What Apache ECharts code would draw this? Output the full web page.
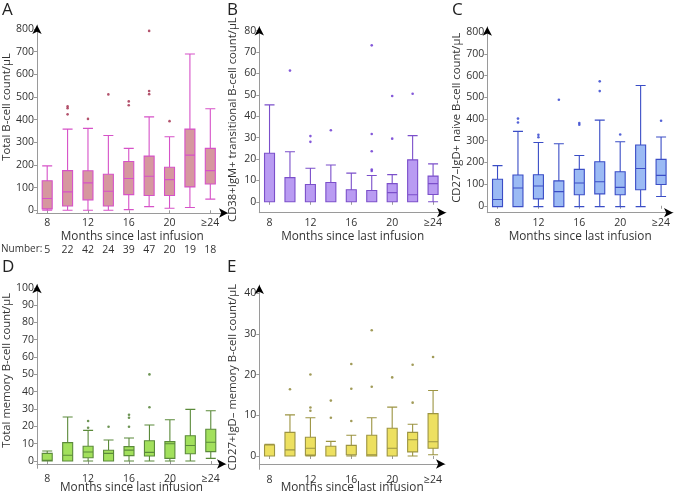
<!DOCTYPE html>
<html>
<head>
<meta charset="utf-8">
<script src="https://cdn.jsdelivr.net/npm/echarts@6/dist/echarts.min.js"></script>
<style>
html,body{margin:0;padding:0;background:#fff;}
#chart{width:676px;height:495px;}
</style>
</head>
<body>
<div id="chart"></div>
<script>
const categories = ['8','10','12','14','16','18','20','22','≥24'];
const numbers = ['5','22','42','24','39','47','20','19','18'];

const ticksA = [0,100,200,300,400,500,600,700,800];
const ticksB = [0,10,20,30,40,50,60,70,80];
const ticksC = [0,100,200,300,400,500,600,700,800];
const ticksD = [0,10,20,30,40,50,60,70,80,90,100];
const ticksE = [0,10,20,30,40];

// [min, Q1, median, Q3, max]
const boxA = [[0,6,52,130,196],[0,19,81,175,358],[0,46,121,174,361],[0,19,84,159,330],[3,69,140,215,273],[16,65,150,239,412],[9,65,135,190,324],[12,103,243,358,689],[49,116,175,273,448]];
const outA = [[1,458],[1,450],[1,423],[2,403],[3,511],[4,480],[4,463],[5,791],[5,526],[5,512],[6,393]];

const boxB = [[0,0,0,22.7,45.3],[0,0,0,11.3,23.4],[0,0,0,8.1,15.7],[0,0,0,9,17.2],[0,0,0,5.6,13.4],[0,0,0,5.3,12.3],[0,0,4.3,8.5,12.7],[0,0,3.3,19.6,30.9],[0,3.4,8.5,12,17.7]];
const outB = [[1,61.3],[2,30.7],[2,28],[3,33.4],[5,73.1],[5,31.7],[5,23.6],[5,15.1],[5,14.4],[6,49.4],[6,29.5],[7,50.5]];

const boxC = [[-4,-4,29,122,185],[-4,-4,82,142,343],[-4,32,91,143,292],[-4,-4,65,115,286],[-4,51,105,168,232],[-4,55,111,203,395],[-4,51,85,157,295],[-4,74,172,280,555],[43,98,140,214,317]];
const outC = [[1,402],[1,384],[2,327],[2,316],[3,489],[4,382],[4,374],[5,574],[5,529],[6,329],[8,392]];

const boxD = [[0,0,0.4,4.4,5.8],[0,0,3.3,10.6,25.4],[0,1.9,5.2,8.5,17.7],[0,0,4.4,6.2,12.1],[0,3.1,6.3,8.3,13.3],[0,2.9,5,11.7,20.8],[0,1.5,10,11.2,23.8],[0,4.2,9,14.6,29.8],[1.5,5.4,10.8,18.3,29]];
const outD = [[2,23.1],[2,19.2],[3,19.8],[4,26.7],[4,25],[4,19.8],[5,50],[5,31]];

const boxE = [[0,0,0,2.7,2.9],[0,0,1.5,5.8,10.1],[0,0.2,1.9,4.6,9.4],[0,0,0,2.4,3.6],[0,0.3,0.3,2.6,5.1],[0,0,0.3,5.1,9.4],[0,0,1.9,6.8,12],[0,1,4,5.8,7.8],[0.3,1.9,3.5,10.4,16.1]];
const outE = [[1,16.4],[2,20],[2,11.9],[2,11.1],[3,13.6],[3,9.4],[4,22.6],[4,16.5],[4,8.6],[5,30.9],[5,17],[6,19.3],[7,22.4],[7,13.1],[8,24.3]];

const FONT = '"Open Sans", "Noto Sans", sans-serif';
const AXIS_GRAY = '#9a9a9a';
const TEXT = '#333';

const panels = [
  {letter:'A', yName:'Total B-cell count/μL', box:boxA, out:outA, ticks:ticksA,
   left:36.5, top:25, bottom:213, arrowRight:228, ymin:-12, ymax:817, nameGap:25, nameShift:24,
   fill:'#d6979f', stroke:'#d652c8', outColor:'#a02848', number:true},
  {letter:'B', yName:'CD38+IgM+ transitional B-cell count/μL', box:boxB, out:outB, ticks:ticksB,
   left:259.3, top:26.5, bottom:212.7, arrowRight:446, ymin:-5.1, ymax:81.9, nameGap:21, nameShift:0,
   fill:'#b99bf2', stroke:'#7b4fca', outColor:'#6530d0'},
  {letter:'C', yName:'CD27–IgD+ naive B-cell count/μL', box:boxC, out:outC, ticks:ticksC,
   left:487.3, top:26.7, bottom:212.7, arrowRight:673, ymin:-32, ymax:826, nameGap:25, nameShift:4,
   fill:'#9bbaf4', stroke:'#3a4dc6', outColor:'#2a3ccc'},
  {letter:'D', yName:'Total memory B-cell count/μL', box:boxD, out:outD, ticks:ticksD,
   left:37, top:284.3, bottom:468.3, arrowRight:226, ymin:-4.2, ymax:102, nameGap:25, nameShift:12,
   fill:'#a2e05c', stroke:'#5b8a3a', outColor:'#4a7a2a'},
  {letter:'E', yName:'CD27+IgD– memory B-cell count/μL', box:boxE, out:outE, ticks:ticksE,
   left:259.3, top:285, bottom:469.3, arrowRight:445, ymin:-3.27, ymax:42, nameGap:21, nameShift:0,
   fill:'#ede060', stroke:'#9c9442', outColor:'#8a8230'}
];

const grid = [], xAxis = [], yAxis = [], series = [], graphic = [];
const BAND_W = 184;

panels.forEach((p) => {
  const gData = grid.length;
  grid.push({left:p.left, top:p.top, width:BAND_W, height:p.bottom - p.top});
  const gDecor = grid.length;
  grid.push({left:p.left, top:p.top, width:p.arrowRight - p.left, height:p.bottom - p.top});

  const xData = xAxis.length;
  xAxis.push({
    type:'category', gridIndex:gData, data:categories, position:'bottom',
    axisLine:{show:false},
    axisTick:{show:true, interval:1, alignWithLabel:true, length:3, lineStyle:{color:AXIS_GRAY}},
    axisLabel:{interval:1, fontSize:10.5, color:TEXT, fontFamily:FONT, margin:5},
    splitLine:{show:false}
  });
  if (p.number) {
    xAxis.push({
      type:'category', gridIndex:gData, data:numbers, position:'bottom', offset:32,
      axisLine:{show:false}, axisTick:{show:false},
      axisLabel:{interval:0, fontSize:10.5, color:TEXT, fontFamily:FONT, margin:0},
      splitLine:{show:false}
    });
  }
  const yData = yAxis.length;
  yAxis.push({
    type:'value', gridIndex:gData, min:p.ymin, max:p.ymax,
    axisLine:{show:true, lineStyle:{color:AXIS_GRAY, width:1}},
    axisTick:{show:true, length:3, customValues:p.ticks, lineStyle:{color:AXIS_GRAY}},
    axisLabel:{customValues:p.ticks, fontSize:10.5, color:TEXT, fontFamily:FONT, margin:3},
    splitLine:{show:false},
    name:p.yName, nameLocation:'middle', nameGap:p.nameGap,
    nameTextStyle:{fontSize:11.3, color:TEXT, fontFamily:FONT, padding:[0,0,0,p.nameShift]}
  });
  yAxis.push({
    type:'value', gridIndex:gData, min:p.ymin, max:p.ymax, position:'left',
    axisLine:{show:true, symbol:['none','arrow'], symbolSize:[7,9], lineStyle:{color:'#000', width:0}},
    axisTick:{show:false}, axisLabel:{show:false}, splitLine:{show:false}
  });
  xAxis.push({
    type:'value', gridIndex:gDecor, min:0, max:1, position:'bottom',
    axisLine:{show:true, lineStyle:{color:AXIS_GRAY, width:1}},
    axisTick:{show:false}, axisLabel:{show:false}, splitLine:{show:false},
    name:'Months since last infusion', nameLocation:'middle', nameGap:18,
    nameTextStyle:{fontSize:11.8, color:TEXT, fontFamily:FONT}
  });
  xAxis.push({
    type:'value', gridIndex:gDecor, min:0, max:1, position:'bottom',
    axisLine:{show:true, symbol:['none','arrow'], symbolSize:[7,9], lineStyle:{color:'#000', width:0}},
    axisTick:{show:false}, axisLabel:{show:false}, splitLine:{show:false}
  });
  yAxis.push({type:'value', gridIndex:gDecor, show:false, min:0, max:1});

  series.push({
    type:'boxplot', xAxisIndex:xData, yAxisIndex:yData, data:p.box,
    boxWidth:[10,10],
    itemStyle:{color:p.fill, borderColor:p.stroke, borderWidth:1.1},
    emphasis:{disabled:true}, z:3
  });
  series.push({
    type:'scatter', xAxisIndex:xData, yAxisIndex:yData, data:p.out,
    symbolSize:2.6, itemStyle:{color:p.outColor}, z:4
  });
});

graphic.push({type:'text', left:2, top:2, style:{text:'A', fontSize:17, fill:'#222', fontFamily:FONT}});
graphic.push({type:'text', left:227, top:2, style:{text:'B', fontSize:17, fill:'#222', fontFamily:FONT}});
graphic.push({type:'text', left:452, top:2, style:{text:'C', fontSize:17, fill:'#222', fontFamily:FONT}});
graphic.push({type:'text', left:2, top:259, style:{text:'D', fontSize:17, fill:'#222', fontFamily:FONT}});
graphic.push({type:'text', left:227, top:259, style:{text:'E', fontSize:17, fill:'#222', fontFamily:FONT}});
graphic.push({type:'text', left:1, top:244, style:{text:'Number:', fontSize:10, fill:TEXT, fontFamily:FONT}});

const chart = echarts.init(document.getElementById('chart'), null, {renderer:'canvas'});
chart.setOption({
  animation:false,
  backgroundColor:'#fff',
  grid, xAxis, yAxis, series, graphic
});
</script>
</body>
</html>
